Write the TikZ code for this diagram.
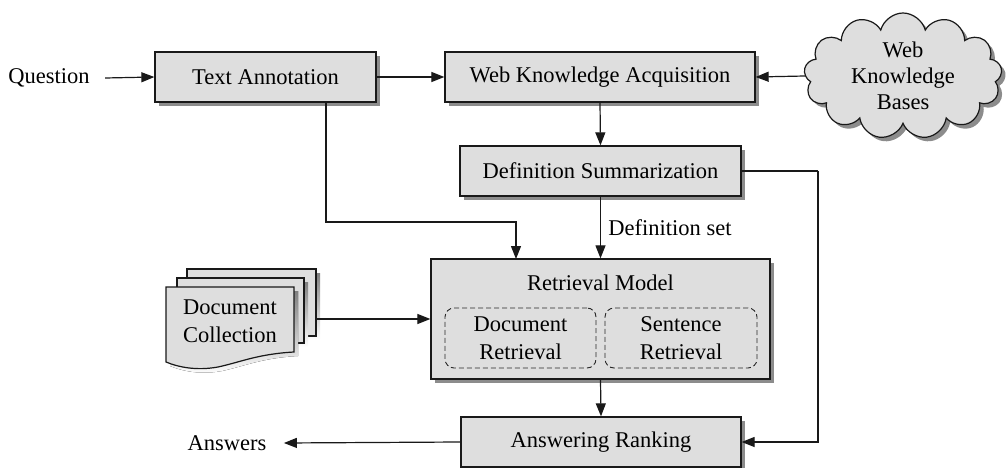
\documentclass[tikz,border=0pt]{standalone}
\usepackage{fontspec}
\setmainfont{Liberation Serif}
\usetikzlibrary{arrows.meta,shapes.symbols,shadows}
\definecolor{boxfill}{HTML}{DEDEDE}
\definecolor{shade}{HTML}{8C8C8C}
\begin{document}
\begin{tikzpicture}[x=1pt,y=-1pt,
  txt/.style={font=\fontsize{22.5}{28}\selectfont},
  procbox/.style={txt,draw=black!90,line width=1.3pt,fill=boxfill,
    general shadow={shadow xshift=4pt,shadow yshift=-4pt,fill=shade},
    minimum height=50pt,inner sep=0pt},
  subbox/.style={txt,draw=black!85,line width=0.9pt,dash pattern=on 5pt off 3pt,
    rounded corners=9pt,minimum width=151pt,minimum height=60pt,align=center,inner sep=0pt},
  conn/.style={line width=1.2pt,draw=black!90,-{Triangle[length=13pt,width=10pt]}},
  plain/.style={line width=1.2pt,draw=black!90}
]
\useasboundingbox (0,0) rectangle (1007,468);

% nodes
\node[txt] (q) at (49,78) {Question};
\node[procbox,minimum width=221pt] (ta) at (265.5,77) {Text Annotation};
\node[procbox,minimum width=310pt] (wka) at (600,77) {Web Knowledge Acquisition};
\node[txt,cloud,cloud puffs=13,cloud ignores aspect,draw=black!90,line width=1.2pt,fill=boxfill,
  general shadow={shadow xshift=4pt,shadow yshift=-4pt,fill=shade},
  minimum width=198pt,minimum height=126pt,align=center,font=\fontsize{22.5}{26}\selectfont,inner sep=0pt]
  (kb) at (903,76) {Web\\Knowledge\\Bases};
\node[procbox,minimum width=281pt] (ds) at (600.5,171) {Definition Summarization};
\node[procbox,minimum width=339pt,minimum height=120pt] (rm) at (600.5,319) {};
\node[txt] (rmt) at (600.5,283) {Retrieval Model};
\node[subbox] (dr) at (520.5,338) {Document\\Retrieval};
\node[subbox,minimum width=152pt] (sr) at (681,338) {Sentence\\Retrieval};
\node[procbox,minimum width=280pt] (ar) at (601,442) {Answering Ranking};
\node[txt] (ans) at (227,443) {Answers};

% document collection (stacked pages)
\fill[shade] (191,273) rectangle (320,340);
\draw[line width=1.2pt,draw=black!90,fill=boxfill] (187,269) rectangle (316,336);
\fill[shade] (181,282) rectangle (308,347);
\draw[line width=1.2pt,draw=black!90,fill=boxfill] (177,278) rectangle (304,343);
\fill[shade] (170,291) -- (298,291) -- (298,356) .. controls (262,358) and (245,366) .. (222,371)
  .. controls (200,375) and (182,371) .. (170,366) -- cycle;
\draw[line width=1.2pt,draw=black!90,fill=boxfill] (166,287) -- (294,287) -- (294,352)
  .. controls (258,354) and (241,362) .. (218,367)
  .. controls (196,371) and (178,367) .. (166,362) -- cycle;
\node[txt,align=center] (dc) at (230,321) {Document\\Collection};
\coordinate (dce) at (316,319);

% connectors
\coordinate (tad) at (326,102);
\coordinate (tb) at (326,222);
\coordinate (tc) at (516,222);
\coordinate (rin) at (516,259);
\coordinate (dsr) at (818,171);
\coordinate (arr) at (818,442);

\draw[conn] (q.east) ++(12pt,0) -- (ta.west);
\draw[conn] (ta.east) -- (wka.west);
\draw[conn] (kb.west) -- (wka.east);
\draw[conn] (wka.south) -- (ds.north);
\draw[conn] (tad) -- (tb) -- (tc) -- (rin);
\draw[conn] (ds.south) -- node[txt,anchor=west,pos=0.5,xshift=4pt] (dset) {Definition set} (rm.north);
\draw[plain] (ds.east) -- (dsr);
\draw[conn] (dsr) -- (arr) -- (ar.east);
\draw[conn] (dce) -- (rm.west);
\draw[conn] (rm.south) -- (ar.north);
\draw[conn] (ar.west) -- ([xshift=14pt]ans.east);
\end{tikzpicture}
\end{document}
